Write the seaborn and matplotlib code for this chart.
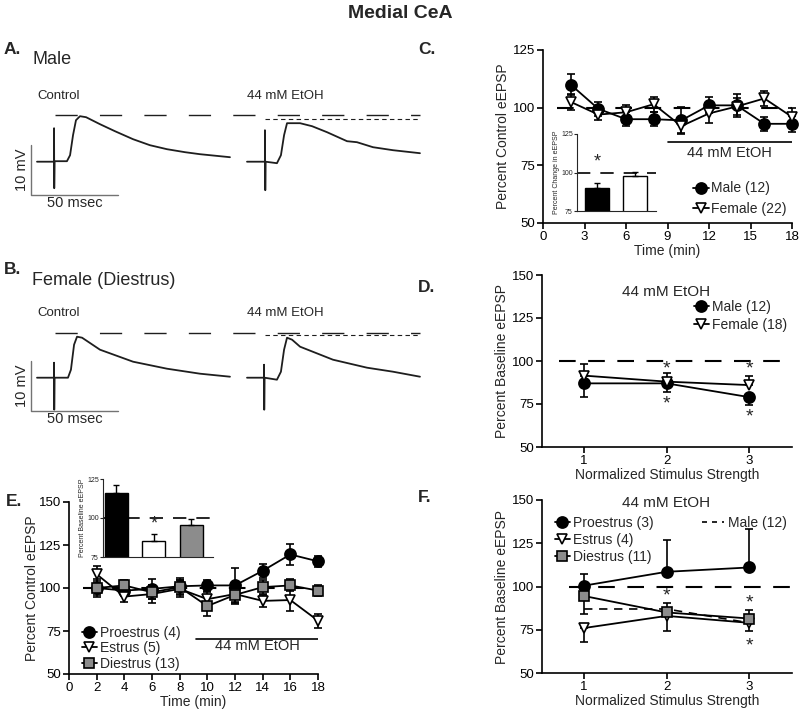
import numpy as np
import pandas as pd
import matplotlib
matplotlib.use("Agg")
import matplotlib.pyplot as plt
from matplotlib.lines import Line2D
import seaborn as sns

W, H = 800, 709

# ---------------- data ----------------
# A / B: example eEPSP traces (time in ms, voltage in mV relative to baseline)
a_ctrl_t = [0, 9.8, 9.8, 9.9, 10.1, 17.2, 19.0, 20.7, 22.4, 24.7, 28.2, 36.2, 44.8, 55.2, 64.9, 74.7, 85.1, 93.7, 102.3, 110.9]
a_ctrl_v = [0, 0, 6.7, -5.3, 0.1, 0.1, 1.3, 5.3, 8.3, 9.1, 8.9, 7.5, 6.1, 4.5, 3.3, 2.5, 1.9, 1.5, 1.2, 0.9]
a_etoh_t = [0, 10.3, 10.3, 10.5, 10.7, 17.2, 19.5, 21.3, 23.0, 30.5, 37.4, 46.0, 57.5, 63.2, 72.4, 83.9, 99.4]
a_etoh_v = [0, 0, 6.3, -5.7, 0, -0.3, 1.3, 5.3, 7.7, 7.7, 7.1, 5.9, 4.1, 3.9, 2.9, 2.3, 1.7]
b_ctrl_t = [0, 9.8, 9.8, 9.9, 10.1, 17.8, 19.5, 21.3, 23.0, 25.9, 36.2, 55.2, 74.7, 93.7, 110.9]
b_ctrl_v = [0, 0, 3.0, -6.4, 0, 0, 1.6, 6.6, 8.2, 8.0, 5.6, 3.2, 1.8, 0.8, 0.2]
b_etoh_t = [0, 9.8, 9.8, 9.9, 10.1, 17.2, 19.5, 21.3, 23.0, 25.9, 30.5, 49.4, 69.0, 83.9, 99.4]
b_etoh_v = [0, 0, 2.6, -6.4, 0, -0.4, 1.2, 5.6, 8.0, 7.6, 6.2, 3.6, 2.0, 1.2, 0.2]
a_peaks = [9.3, 8.5]
b_peaks = [8.9, 8.5]

# C: male vs female time course
c_time = [2, 4, 6, 8, 10, 12, 14, 16, 18]
c_male = [110, 99.5, 95, 95, 94.5, 101, 101, 93, 93]
c_male_err = [4.5, 3, 3, 3, 6, 3.5, 5, 3, 3.5]
c_female = [102.5, 97, 98, 101.5, 92, 97.5, 100.5, 104, 96]
c_female_err = [3.5, 2.5, 3, 3.2, 3, 4, 3.6, 3.3, 4]
c_inset_groups = ["Male", "Female"]
c_inset_vals = [90, 97.5]
c_inset_err = [3.5, 3]

# D: input-output, 44 mM EtOH
strength = [1, 2, 3]
d_male = [87, 87, 79]
d_male_err = [8, 5, 4.5]
d_female = [91.5, 88, 86]
d_female_err = [7, 5, 5]

# E: estrous stage time course
e_time = [2, 4, 6, 8, 10, 12, 14, 16, 18]
e_pro = [100, 98.5, 99.5, 101, 101.5, 101.5, 110, 119.5, 115.5]
e_pro_err = [4, 3, 6, 5, 3, 10, 4, 6, 3]
e_est = [108, 95, 96.5, 99.5, 93.5, 96.5, 92.5, 93, 81]
e_est_err = [5, 3, 5, 5, 4, 6, 3.5, 6.5, 4]
e_die = [100, 101.5, 97.5, 100.5, 89.5, 96, 100.5, 101.5, 98.5]
e_die_err = [5, 3, 4, 4, 6, 4, 4, 3.5, 3]
e_inset_groups = ["Proestrus", "Estrus", "Diestrus"]
e_inset_vals = [116, 85.5, 95.5]
e_inset_err = [5, 4.5, 4]

# F: estrous stage input-output
f_pro = [100.5, 108.5, 111]
f_pro_err = [7, 18.5, 22]
f_est = [76, 83, 79]
f_est_err = [8, 9, 4.5]
f_die = [94.5, 85, 81.5]
f_die_lo = [10.5, 0, 0]
f_die_hi = [0, 5.5, 5]

# ---------------- style ----------------
sns.set_style("ticks")
plt.rcParams['font.family'] = ['Liberation Sans', 'DejaVu Sans']
plt.rcParams['axes.linewidth'] = 1.2
plt.rcParams['xtick.major.width'] = 1.2
plt.rcParams['ytick.major.width'] = 1.2
plt.rcParams['xtick.major.size'] = 4
plt.rcParams['ytick.major.size'] = 4
plt.rcParams['xtick.labelsize'] = 9.5
plt.rcParams['ytick.labelsize'] = 9.5
plt.rcParams['axes.labelsize'] = 10

GRAY = "#8c8c8c"
DASH = (0, (8, 6))
TRI = 7.5

fig = plt.figure(figsize=(W / 100, H / 100), dpi=100)


def box(l, t, r, b):
    return [l / W, 1 - b / H, (r - l) / W, (b - t) / H]


def ftext(px, py, s, **kw):
    fig.text(px / W, 1 - py / H, s, **kw)


def style_ax(ax):
    sns.despine(ax=ax)
    ax.tick_params(direction="out", pad=1.5, colors="black")
    for sp in ax.spines.values():
        sp.set_color("black")


def series(ax, x, y, lo, hi, marker, face, ms=8):
    df = pd.DataFrame({"x": x, "y": y})
    eb = ax.errorbar(x, y, yerr=[lo, hi], fmt="none", ecolor="black",
                     elinewidth=1.2, capsize=3, capthick=1.2, zorder=2)
    for art in eb.lines[1] + eb.lines[2]:
        art.set_clip_on(False)
    sns.lineplot(data=df, x="x", y="y", ax=ax, color="black", lw=1.3,
                 marker=marker, markersize=ms, markerfacecolor=face,
                 markeredgecolor="black", markeredgewidth=1.2, zorder=3,
                 clip_on=False)


def handle(marker, face, ms=8):
    return Line2D([], [], color="black", lw=1.3, marker=marker, markersize=ms,
                  markerfacecolor=face, markeredgecolor="black", markeredgewidth=1.2)


# ---------------- header ----------------
ftext(400, 13, "Medial CeA", ha="center", va="center", fontsize=14, fontweight="bold")


# ---------------- A / B traces ----------------
def trace_panel(rect, base, ct, cv, et, ev, peaks, offset):
    ax = fig.add_axes(rect)
    ax.set_xlim(-11.5, 229.9)
    ax.set_ylim(*base)
    ax.axis("off")
    ax.plot(ct, cv, color="#1e1e1e", lw=1.3)
    ax.plot(np.array(et) + offset, ev, color="#1e1e1e", lw=1.3)
    ax.plot([10.3, 220], [peaks[0]] * 2, color="#1e1e1e", lw=1.0, ls=(0, (16, 16)))
    ax.plot([offset + 10.3, 220], [peaks[1]] * 2, color="#1e1e1e", lw=0.8, ls=(0, (4, 3)))
    # scale bar: 50 ms x 10 mV
    ax.plot([-3.45, -3.45, 46.55], [3.34, -6.66, -6.66], color="0.45", lw=1.0)
    ax.text(-8.5, -1.7, "10 mV", rotation=90, ha="center", va="center", fontsize=10.5)
    ax.text(21.5, -8.2, "50 msec", ha="center", va="center", fontsize=10.5)
    return ax


trace_panel(box(17, 100, 437, 215), (-10.66, 12.34), a_ctrl_t, a_ctrl_v,
            a_etoh_t, a_etoh_v, a_peaks, 120.7)
trace_panel(box(17, 317, 437, 431), (-10.66, 12.14), b_ctrl_t, b_ctrl_v,
            b_etoh_t, b_etoh_v, b_peaks, 120.7)

ftext(4, 50, "A.", fontsize=12.5, fontweight="bold", va="center")
ftext(32, 59, "Male", fontsize=13, va="center")
ftext(37, 96, "Control", fontsize=9.5, va="center")
ftext(247, 96, "44 mM EtOH", fontsize=9.5, va="center")
ftext(4, 269, "B.", fontsize=12.5, fontweight="bold", va="center")
ftext(32, 280, "Female (Diestrus)", fontsize=13, va="center")
ftext(37, 313, "Control", fontsize=9.5, va="center")
ftext(247, 313, "44 mM EtOH", fontsize=9.5, va="center")

# ---------------- C ----------------
axc = fig.add_axes(box(543, 50, 792, 223))
axc.axhline(100, xmin=1 / 18, color="black", lw=1.5, ls=DASH, zorder=1)
series(axc, c_time, c_male, c_male_err, c_male_err, "o", "black")
series(axc, c_time, c_female, c_female_err, c_female_err, "v", "white", TRI)
axc.plot([9, 18], [85, 85], color="black", lw=1.2)
axc.text(13.5, 80.5, "44 mM EtOH", ha="center", va="center", fontsize=10.5)
axc.set_xlim(0, 18)
axc.set_ylim(50, 125)
axc.set_xticks(range(0, 19, 3))
axc.set_yticks([50, 75, 100, 125])
axc.set_xlabel("Time (min)", labelpad=1)
axc.set_ylabel("Percent Control eEPSP", labelpad=2)
style_ax(axc)
axc.legend([handle("o", "black"), handle("v", "white", TRI)], ["Male (12)", "Female (22)"],
           loc="lower right", bbox_to_anchor=(1.03, -0.03), frameon=False,
           fontsize=10, handlelength=1.1, handletextpad=0.2, labelspacing=0.45)
ftext(418, 50, "C.", fontsize=12.5, fontweight="bold", va="center")

# C inset
axci = fig.add_axes(box(577, 134, 656, 211))
sns.barplot(x=c_inset_groups, y=c_inset_vals, hue=c_inset_groups,
            palette=["black", "white"], edgecolor="black", linewidth=1.0,
            width=0.63, legend=False, ax=axci)
axci.errorbar([0, 1], c_inset_vals, yerr=[[0, 0], c_inset_err], fmt="none",
              ecolor="black", elinewidth=1.0, capsize=2.5, capthick=1.0)
axci.axhline(100, color="black", lw=1.2, ls=(0, (8, 6)), zorder=0)
axci.text(0, 101, "*", ha="center", va="bottom", fontsize=13)
axci.set_xlim(-0.53, 1.55)
axci.set_ylim(75, 125)
axci.set_yticks([75, 100, 125])
axci.set_xticks([])
axci.tick_params(labelsize=5, length=2, width=0.8, pad=1)
axci.set_ylabel("Percent Change in eEPSP", fontsize=5, labelpad=1)
sns.despine(ax=axci)
axci.spines["left"].set_linewidth(0.8)
axci.spines["bottom"].set_linewidth(0.8)
axci.set_facecolor("none")

# ---------------- D ----------------
axd = fig.add_axes(box(542, 275, 792, 447))
axd.plot([0.7, 3.52], [100, 100], color="black", lw=1.5, ls=DASH, zorder=1)
series(axd, strength, d_male, d_male_err, [0, 0, 0], "o", "black")
series(axd, strength, d_female, [0, 0, 0], d_female_err, "v", "white", TRI)
for x, y in [(2, 95.5), (2, 75), (3, 95.5), (3, 67.5)]:
    axd.text(x, y, "*", ha="center", va="center", fontsize=14)
axd.set_xlim(0.49, 3.52)
axd.set_ylim(50, 150)
axd.set_xticks(strength)
axd.set_yticks([50, 75, 100, 125, 150])
axd.set_xlabel("Normalized Stimulus Strength", labelpad=1)
axd.set_ylabel("Percent Baseline eEPSP", labelpad=2)
style_ax(axd)
axd.legend([handle("o", "black"), handle("v", "white", TRI)], ["Male (12)", "Female (18)"],
           loc="upper right", bbox_to_anchor=(1.03, 0.93), frameon=False,
           fontsize=10, handlelength=1.1, handletextpad=0.2, labelspacing=0.3)
ftext(418, 288, "D.", fontsize=12.5, fontweight="bold", va="center")
ftext(666, 292, "44 mM EtOH", fontsize=11, ha="center", va="center")

# ---------------- E ----------------
axe = fig.add_axes(box(69, 502, 318, 674))
axe.axhline(100, xmin=1 / 18, color="black", lw=1.5, ls=DASH, zorder=1)
series(axe, e_time, e_pro, e_pro_err, e_pro_err, "o", "black")
series(axe, e_time, e_est, e_est_err, e_est_err, "v", "white", TRI)
series(axe, e_time, e_die, e_die_err, e_die_err, "s", GRAY, ms=7.5)
axe.plot([9.2, 18], [70.5, 70.5], color="black", lw=1.2)
axe.text(13.6, 66.5, "44 mM EtOH", ha="center", va="center", fontsize=10.5)
axe.set_xlim(0, 18)
axe.set_ylim(50, 150)
axe.set_xticks(range(0, 19, 2))
axe.set_yticks([50, 75, 100, 125, 150])
axe.set_xlabel("Time (min)", labelpad=1)
axe.set_ylabel("Percent Control eEPSP", labelpad=0)
style_ax(axe)
axe.legend([handle("o", "black"), handle("v", "white", TRI), handle("s", GRAY, 7.5)],
           ["Proestrus (4)", "Estrus (5)", "Diestrus (13)"],
           loc="lower left", bbox_to_anchor=(0.0, -0.055), frameon=False,
           fontsize=10, handlelength=1.1, handletextpad=0.2, labelspacing=0.12)
ftext(6, 502, "E.", fontsize=12.5, fontweight="bold", va="center")

# E inset
axei = fig.add_axes(box(103, 479, 213, 557))
sns.barplot(x=e_inset_groups, y=e_inset_vals, hue=e_inset_groups,
            palette=["black", "white", GRAY], edgecolor="black", linewidth=1.0,
            width=0.61, legend=False, ax=axei)
axei.errorbar([0, 1, 2], e_inset_vals, yerr=[[0, 0, 0], e_inset_err], fmt="none",
              ecolor="black", elinewidth=1.0, capsize=2.5, capthick=1.0)
axei.axhline(100, color="black", lw=1.2, ls=(0, (8, 6)), zorder=0)
axei.text(1, 90.5, "*", ha="center", va="bottom", fontsize=13)
axei.set_xlim(-0.36, 2.58)
axei.set_ylim(75, 125)
axei.set_yticks([75, 100, 125])
axei.set_xticks([])
axei.tick_params(labelsize=5, length=2, width=0.8, pad=1)
axei.set_ylabel("Percent Baseline eEPSP", fontsize=5, labelpad=1)
sns.despine(ax=axei)
axei.spines["left"].set_linewidth(0.8)
axei.spines["bottom"].set_linewidth(0.8)
axei.set_facecolor("white")

# ---------------- F ----------------
axf = fig.add_axes(box(542, 500, 792, 673))
axf.plot([0.82, 3.52], [100, 100], color="black", lw=1.5, ls=DASH, zorder=1)
axf.plot(strength, d_male, color="black", lw=1.2, ls=(0, (5, 4)), zorder=1)
series(axf, strength, f_pro, [0, 0, 0], f_pro_err, "o", "black")
series(axf, strength, f_est, f_est_err, [0, 0, 0], "v", "white", TRI)
series(axf, strength, f_die, f_die_lo, f_die_hi, "s", GRAY, ms=7.5)
for x, y in [(2, 94.5), (3, 90.5), (3, 65.5)]:
    axf.text(x, y, "*", ha="center", va="center", fontsize=14)
axf.set_xlim(0.49, 3.52)
axf.set_ylim(50, 150)
axf.set_xticks(strength)
axf.set_yticks([50, 75, 100, 125, 150])
axf.set_xlabel("Normalized Stimulus Strength", labelpad=1)
axf.set_ylabel("Percent Baseline eEPSP", labelpad=2)
style_ax(axf)
axf.legend([handle("o", "black"), handle("v", "white", TRI), handle("s", GRAY, 7.5)],
           ["Proestrus (3)", "Estrus (4)", "Diestrus (11)"],
           loc="upper left", bbox_to_anchor=(0.0, 0.98), frameon=False,
           fontsize=10, handlelength=1.1, handletextpad=0.2, labelspacing=0.2)
male_h = Line2D([], [], color="black", lw=1.2, ls=(0, (3, 3)))
axf.add_artist(axf.get_legend())
axf.legend([male_h], ["Male (12)"], loc="upper right", bbox_to_anchor=(1.03, 0.98),
           frameon=False, fontsize=10, handlelength=1.6, handletextpad=0.3)
ftext(418, 497, "F.", fontsize=12.5, fontweight="bold", va="center")
ftext(666, 503, "44 mM EtOH", fontsize=11, ha="center", va="center")

fig.savefig("out.png", dpi=100)
